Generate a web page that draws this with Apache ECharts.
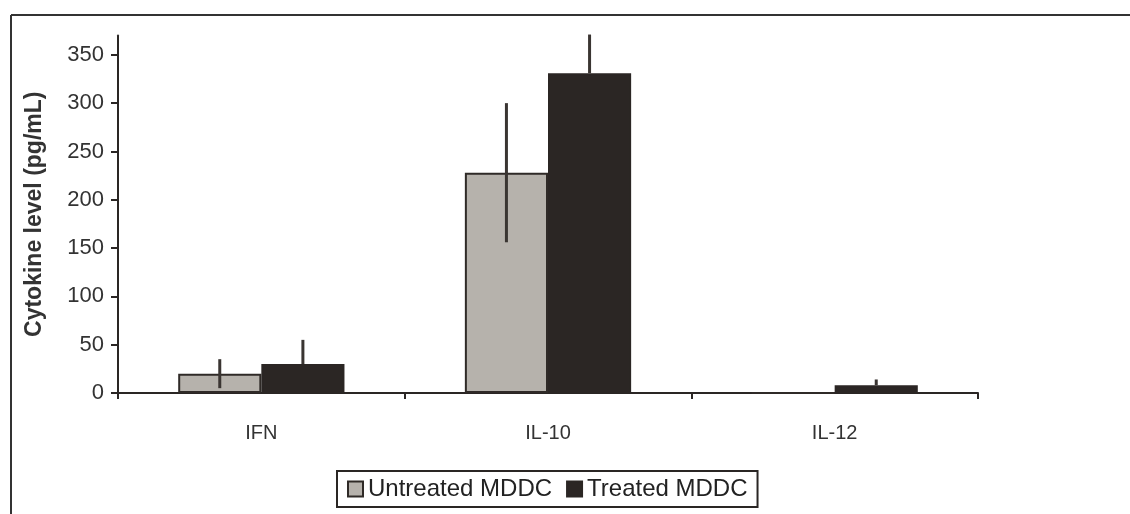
<!DOCTYPE html>
<html><head><meta charset="utf-8">
<script src="https://cdn.jsdelivr.net/npm/echarts@6/dist/echarts.min.js"></script>
<style>html,body{margin:0;padding:0;background:#fff}#c{width:1130px;height:514px}</style>
</head><body><div id="c"></div>
<script>
var categories = ['IFN', 'IL-10', 'IL-12'];
var untreated = [20, 228, 0];
var untreatedErr = [15, 72, 0];
var treated = [30, 331, 8];
var treatedErr = [25, 40, 6];
var yTicks = [0, 50, 100, 150, 200, 250, 300, 350];
var seriesNames = ['Untreated MDDC', 'Treated MDDC'];

var catGap = 0.42;
function errSeries(vals, errs, side, upOnly) {
  return {
    type: 'custom', silent: true, z: 5,
    data: vals.map(function (v, i) { return [i, v, errs[i]]; }),
    renderItem: function (params, api) {
      var i = api.value(0), v = api.value(1), e = api.value(2);
      if (e <= 0) return null;
      var band = api.size([1, 0])[0];
      var bw = band * (1 - catGap) / 2;
      var c = api.coord([i, v]);
      var x = c[0] + side * bw / 2;
      var top = api.coord([i, v + e])[1];
      var bot = upOnly ? c[1] : api.coord([i, v - e])[1];
      return { type: 'line', shape: { x1: x, y1: top, x2: x, y2: bot },
        style: { stroke: '#3a3532', lineWidth: 3 } };
    }
  };
}
var chart = echarts.init(document.getElementById('c'));
chart.setOption({
  animation: false,
  textStyle: { fontFamily: 'Liberation Sans, Arial, sans-serif' },
  graphic: [
    { type: 'line', shape: { x1: 11, y1: 15, x2: 1130, y2: 15 }, style: { stroke: '#333', lineWidth: 2 }, z: -1 },
    { type: 'line', shape: { x1: 11, y1: 15, x2: 11, y2: 514 }, style: { stroke: '#333', lineWidth: 2 }, z: -1 }
  ],
  grid: { left: 118, right: 152, top: 35.5, bottom: 121 },
  legend: {
    left: 337, top: 471, data: seriesNames, icon: 'rect',
    itemWidth: 15, itemHeight: 15, itemGap: 14,
    borderColor: '#2a2624', borderWidth: 2, padding: [6, 10, 6, 10],
    textStyle: { fontSize: 24, color: '#222', fontFamily: 'Liberation Sans, Arial, sans-serif' }
  },
  xAxis: {
    type: 'category', data: categories,
    axisLine: { lineStyle: { color: '#2a2624', width: 2 } },
    axisTick: { show: true, length: 6, lineStyle: { color: '#2a2624', width: 2 } },
    axisLabel: { fontSize: 20, color: '#333', margin: 30 }
  },
  yAxis: {
    type: 'value', min: 0, max: 370, interval: 50,
    name: 'Cytokine level (pg/mL)', nameLocation: 'middle', nameGap: 72,
    nameTextStyle: { fontSize: 23, fontWeight: 'bold', color: '#333' },
    splitLine: { show: false },
    axisLine: { show: true, lineStyle: { color: '#2a2624', width: 2 } },
    axisTick: { show: true, length: 7, customValues: yTicks, lineStyle: { color: '#2a2624', width: 2 } },
    axisLabel: { fontSize: 22, color: '#333', margin: 14, customValues: yTicks }
  },
  series: [
    { name: seriesNames[0], type: 'bar', data: untreated, barGap: '0%', barCategoryGap: '42%',
      itemStyle: { color: '#b6b2ac', borderColor: '#2f2a27', borderWidth: 2 } },
    { name: seriesNames[1], type: 'bar', data: treated,
      itemStyle: { color: '#2b2624', borderColor: '#2b2624', borderWidth: 2 } },
    errSeries(untreated, untreatedErr, -1, false),
    errSeries(treated, treatedErr, 1, true)
  ]
});
</script></body></html>
